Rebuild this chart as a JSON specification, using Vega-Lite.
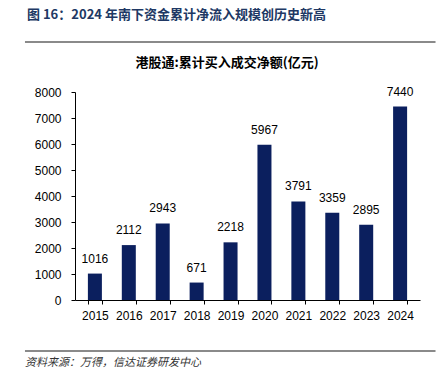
{
  "$schema": "https://vega.github.io/schema/vega-lite/v6.json",
  "background": "white",
  "padding": {"left": 23, "top": 9, "right": 10, "bottom": 0},
  "config": {"view": {"stroke": null}, "font": "Liberation Sans"},
  "spacing": 13,
  "vconcat": [
    {
      "width": 345,
      "height": 16,
      "data": {"values": [{"v": 0}]},
      "mark": {"type": "rule", "color": "#8a8a8a", "stroke": "#8a8a8a", "strokeWidth": 2},
      "encoding": {
        "y": {"field": "v", "type": "quantitative", "scale": {"domain": [0, 1]}, "axis": null},
        "x": {"datum": -0.145, "type": "quantitative", "scale": {"domain": [0, 1]}, "axis": null},
        "x2": {"datum": 1.045}
      },
      "title": {"text": "图 16：2024 年南下资金累计净流入规模创历史新高", "anchor": "start", "frame": "group", "dx": -48,
        "font": "Noto Sans CJK SC", "fontSize": 13, "fontWeight": "bold", "color": "#203864", "offset": 4}
    },
    {
      "width": 345,
      "height": 208,
      "data": {"values": [
        {"year": "2015", "value": 1016},
        {"year": "2016", "value": 2112},
        {"year": "2017", "value": 2943},
        {"year": "2018", "value": 671},
        {"year": "2019", "value": 2218},
        {"year": "2020", "value": 5967},
        {"year": "2021", "value": 3791},
        {"year": "2022", "value": 3359},
        {"year": "2023", "value": 2895},
        {"year": "2024", "value": 7440}
      ]},
      "title": {"text": "港股通:累计买入成交净额(亿元)", "anchor": "middle", "frame": "bounds",
        "font": "Noto Sans CJK SC", "fontSize": 13, "fontWeight": "bold", "color": "#000000", "offset": 16},
      "encoding": {
        "x": {"field": "year", "type": "nominal", "sort": null,
          "scale": {"paddingInner": 0.587, "paddingOuter": 0.38},
          "axis": {"title": null, "labelAngle": 0, "tickBand": "extent", "domainColor": "#000000", "tickColor": "#000000",
            "labelColor": "#000000", "labelFontSize": 12, "labelFont": "Liberation Sans", "tickSize": 4, "labelPadding": 6}},
        "y": {"field": "value", "type": "quantitative", "scale": {"domain": [0, 8000], "nice": false},
          "axis": {"title": null, "format": "d", "values": [0, 1000, 2000, 3000, 4000, 5000, 6000, 7000, 8000], "grid": false,
            "domainColor": "#000000", "tickColor": "#000000", "labelColor": "#000000", "labelFontSize": 12,
            "labelFont": "Liberation Sans", "tickSize": 4, "labelPadding": 10}}
      },
      "layer": [
        {"mark": {"type": "bar", "color": "#0B1F5E"}},
        {"mark": {"type": "text", "dy": -15, "fontSize": 12, "font": "Liberation Sans", "color": "#000000"},
          "encoding": {"text": {"field": "value", "type": "quantitative", "format": "d"}}}
      ]
    },
    {
      "width": 345,
      "height": 17,
      "data": {"values": [{"v": 0}]},
      "mark": {"type": "rule", "color": "#8a8a8a", "stroke": "#8a8a8a", "strokeWidth": 2},
      "encoding": {
        "y": {"field": "v", "type": "quantitative", "scale": {"domain": [0, 1]}, "axis": null},
        "x": {"datum": -0.145, "type": "quantitative", "scale": {"domain": [0, 1]}, "axis": null},
        "x2": {"datum": 1.045}
      },
      "title": {"text": "资料来源：万得，信达证券研发中心", "orient": "bottom", "anchor": "start", "frame": "group", "dx": -50,
        "font": "Noto Sans CJK SC", "fontSize": 11, "fontStyle": "italic", "fontWeight": "normal", "color": "#333333", "offset": 5}
    }
  ]
}
